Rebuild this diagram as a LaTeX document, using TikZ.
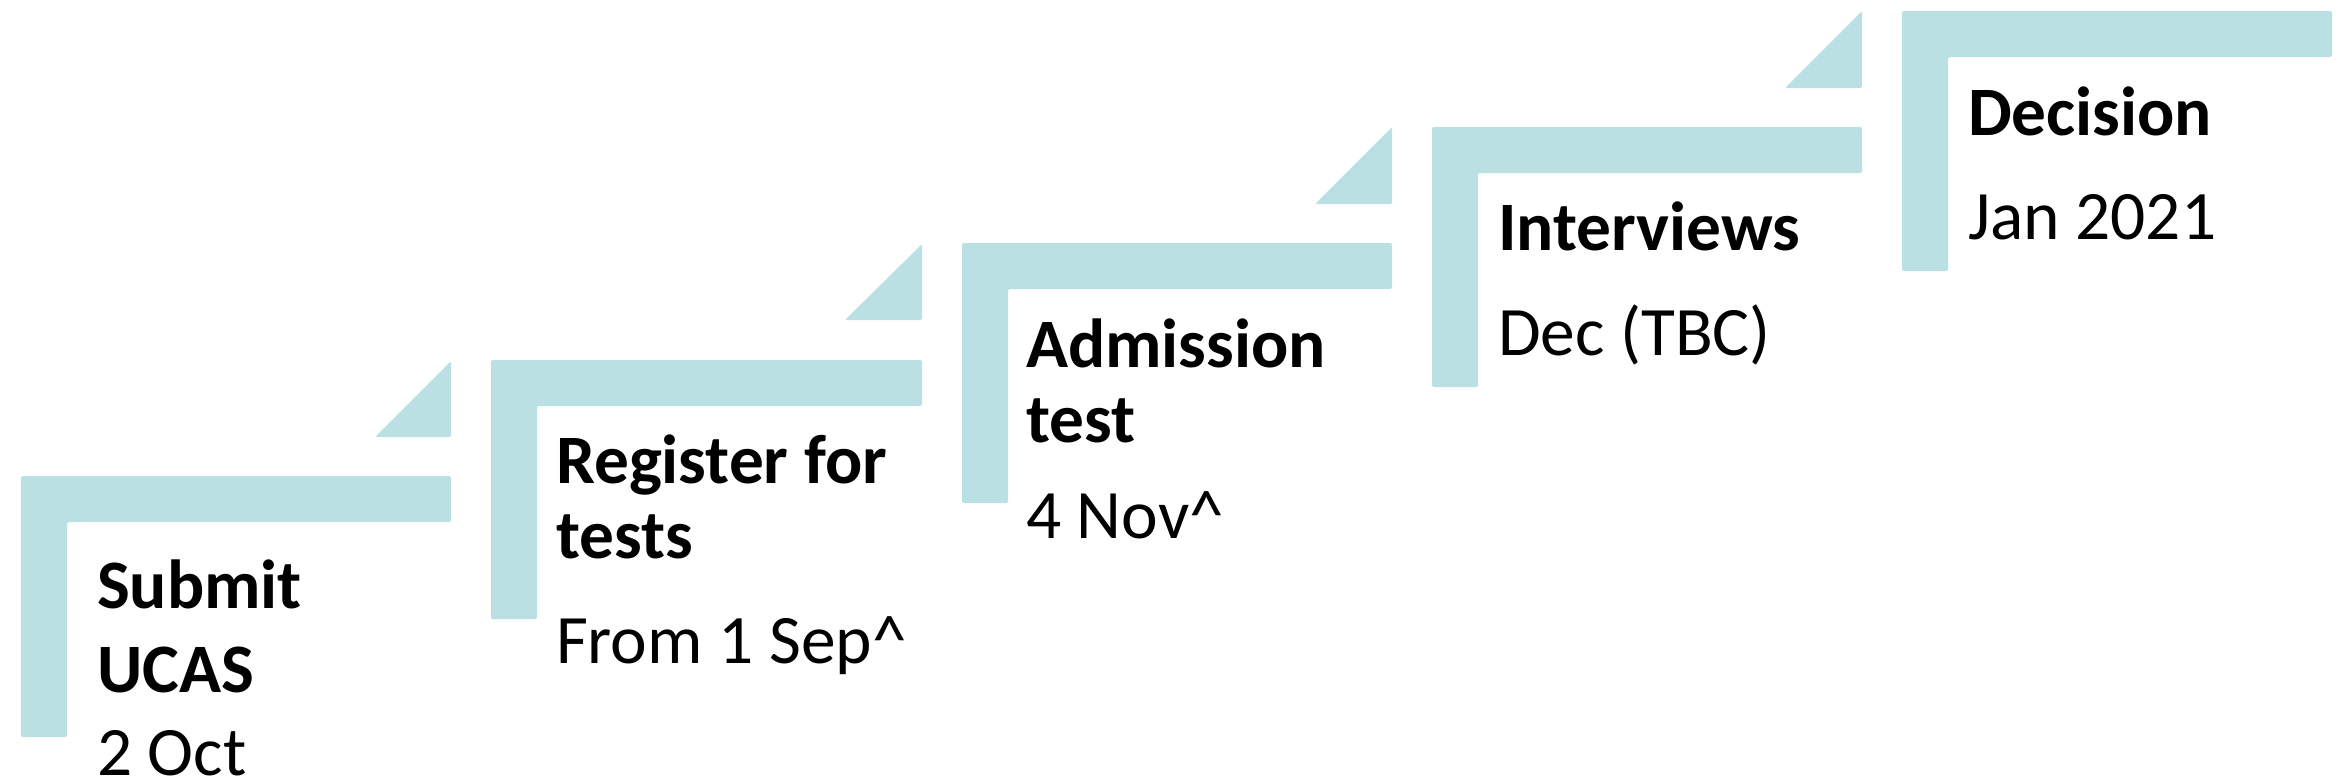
\documentclass[tikz,border=0pt]{standalone}
\usepackage{fontspec}
\setmainfont{Carlito}
\definecolor{stepfill}{RGB}{187,224,227}
\begin{document}
\begin{tikzpicture}[x=0.5pt,y=-0.5pt,
  stepshape/.style={fill=stepfill, draw=none, rounded corners=1pt},
  lbl/.style={anchor=base west, inner sep=0pt, outer sep=0pt, text=black},
  title/.style={lbl, font=\fontsize{34.7}{41}\selectfont\bfseries},
  date/.style={lbl, font=\fontsize{34.7}{41}\selectfont}]
\useasboundingbox (0,0) rectangle (2346,782);
% L-shaped steps: left, top, right, bar bottom, inner x, bottom
\fill[stepshape] (21,476) -- (451,476) -- (451,522) -- (67,522) -- (67,737) -- (21,737) -- cycle;
\fill[stepshape] (491,360) -- (922,360) -- (922,406) -- (537,406) -- (537,619) -- (491,619) -- cycle;
\fill[stepshape] (962,243) -- (1392,243) -- (1392,289) -- (1008,289) -- (1008,503) -- (962,503) -- cycle;
\fill[stepshape] (1432,127) -- (1862,127) -- (1862,173) -- (1478,173) -- (1478,387) -- (1432,387) -- cycle;
\fill[stepshape] (1902,11) -- (2332,11) -- (2332,57) -- (1948,57) -- (1948,271) -- (1902,271) -- cycle;
% triangles
\fill[stepshape] (375,437) -- (451,437) -- (451,361) -- cycle;
\fill[stepshape] (845,320) -- (922,320) -- (922,244) -- cycle;
\fill[stepshape] (1315,204) -- (1392,204) -- (1392,127) -- cycle;
\fill[stepshape] (1785,88) -- (1862,88) -- (1862,11) -- cycle;
% texts
\node[title] (t1a) at (97,608) {Submit};
\node[title] (t1b) at (97,692) {UCAS};
\node[date] (d1) at (97,775) {2 Oct};
\node[title] (t2a) at (556,483) {Register for};
\node[title] (t2b) at (556,558) {tests};
\node[date] (d2) at (556,663) {From 1 Sep\^{}};
\node[title] (t3a) at (1026,367) {Admission};
\node[title] (t3b) at (1026,442) {test};
\node[date] (d3) at (1026,538) {4 Nov\^{}};
\node[title] (t4a) at (1498,250) {Interviews};
\node[date] (d4) at (1498,355) {Dec (TBC)};
\node[title] (t5a) at (1968,135) {Decision};
\node[date] (d5) at (1968,239) {Jan 2021};
\end{tikzpicture}
\end{document}
